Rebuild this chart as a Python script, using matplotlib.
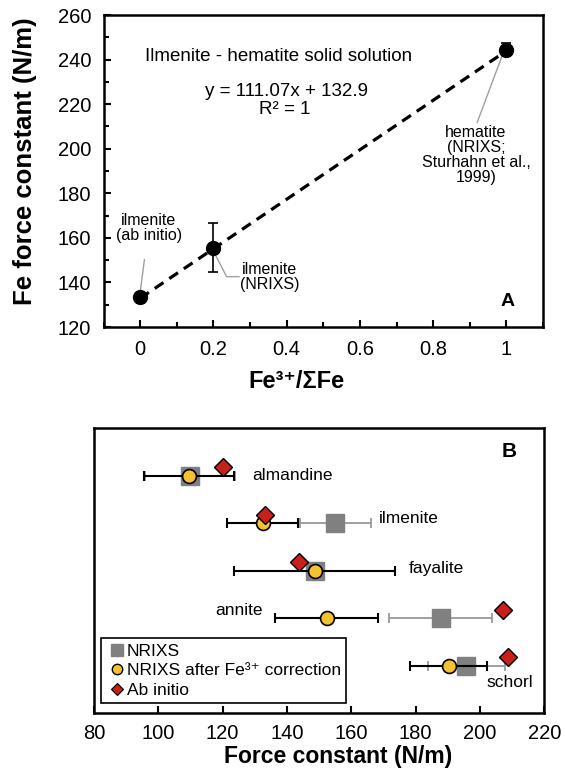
import matplotlib
matplotlib.use("Agg")
import matplotlib.pyplot as plt
from matplotlib.lines import Line2D
from matplotlib.ticker import MultipleLocator

plt.rcParams['font.family'] = ['Liberation Sans', 'DejaVu Sans']

# panel A: ilmenite - hematite solid solution
fe3_ratio = [0.0, 0.2, 1.0]
fe_force = [133.5, 155.5, 244.5]
fe_force_err = [0, 11, 3]
fit_slope = 111.07
fit_intercept = 132.9

# panel B: force constants per mineral
minerals = ['almandine', 'ilmenite', 'fayalite', 'annite', 'schorl']
nrixs = [109.8, 155.0, 148.6, 187.8, 195.8]
nrixs_err = [14, 11, 25, 16, 12]
corrected = [109.6, 132.4, 148.6, 152.3, 190.3]
corrected_err = [14, 11, 25, 16, 12]
ab_initio = [120.2, 133.3, 143.8, 207.3, 208.8]

fig = plt.figure(figsize=(5.65, 7.72), dpi=100)

# ---------------- panel A
ax = fig.add_axes([0.1832, 0.5764, 0.778, 0.4041])
xs = [0, 1]
ax.plot(xs, [fit_intercept + fit_slope * x for x in xs], color='black', lw=2.3,
        dashes=(3.3, 2.2), zorder=2)
ax.errorbar(fe3_ratio, fe_force, yerr=fe_force_err, fmt='o', color='black',
            ms=10, elinewidth=1.2, capsize=3.5, capthick=1.2, zorder=3)

gray = '#a0a0a0'
ax.annotate('ilmenite\n(ab initio)', xy=(0.0, 135.5), xytext=(0.023, 164.5),
            ha='center', va='center', fontsize=11.5, linespacing=1.0,
            arrowprops=dict(arrowstyle='-', color=gray, lw=1, shrinkA=10, shrinkB=0))
ax.text(0.354, 142.4, 'ilmenite\n(NRIXS)', ha='center', va='center', fontsize=11.5,
        linespacing=1.0)
# leader line for the NRIXS ilmenite label
ax.plot([0.27, 0.236, 0.202], [142.6, 142.6, 153.5], color=gray, lw=1, zorder=1)
ax.annotate('hematite\n(NRIXS;\nSturhahn et al.,\n1999)', xy=(0.99, 242.5), xytext=(0.917, 197.0),
            ha='center', va='center', fontsize=11.5, linespacing=1.0,
            arrowprops=dict(arrowstyle='-', color=gray, lw=1, shrinkA=0, shrinkB=0,
                            relpos=(0.5, 1.0)))

ax.text(0.379, 241.3, 'Ilmenite - hematite solid solution', ha='center', va='center', fontsize=13.5)
ax.text(0.399, 225.6, 'y = 111.07x + 132.9', ha='center', va='center', fontsize=13.5)
ax.text(0.394, 217.4, 'R² = 1', ha='center', va='center', fontsize=13.5)
ax.text(0.919, 0.081, 'A', transform=ax.transAxes, ha='center', va='center',
        fontsize=14, fontweight='bold')

ax.set_xlim(-0.1, 1.1)
ax.set_ylim(120, 260)
ax.xaxis.set_minor_locator(MultipleLocator(0.1))
ax.yaxis.set_major_locator(MultipleLocator(20))
ax.yaxis.set_minor_locator(MultipleLocator(10))
ax.set_xticks([0, 0.2, 0.4, 0.6, 0.8, 1.0])
ax.set_xticklabels(['0', '0.2', '0.4', '0.6', '0.8', '1'])
ax.tick_params(which='both', direction='in', labelsize=14.5, width=1.5)
ax.tick_params(which='major', length=5, pad=9)
ax.tick_params(which='minor', length=3.5)
for s in ax.spines.values():
    s.set_linewidth(1.8)
ax.set_xlabel('Fe³⁺/ΣFe', fontsize=17, fontweight='bold', va='center')
ax.xaxis.set_label_coords(0.44, -0.176)
ax.set_ylabel('Fe force constant (N/m)', fontsize=18.5, fontweight='bold', va='center')
ax.yaxis.set_label_coords(-0.179, 0.53)

# ---------------- panel B
bx = fig.add_axes([0.1664, 0.0764, 0.797, 0.3692])
ypos = [5, 4, 3, 2, 1]
dy = 0.17
bx.errorbar(nrixs, ypos, xerr=nrixs_err, fmt='none', ecolor='#999999', elinewidth=1.3,
            capsize=3.5, capthick=1.3, zorder=2)
bx.plot(nrixs, ypos, 's', color='#808080', ms=13, mec='#808080', zorder=3)
bx.errorbar(corrected, ypos, xerr=corrected_err, fmt='none', ecolor='black', elinewidth=1.5,
            capsize=3.5, capthick=1.5, zorder=4)
bx.plot(corrected, ypos, 'o', color='#f2c230', ms=10, mec='black', mew=1.2, zorder=5)
bx.plot(ab_initio, [y + dy for y in ypos], 'D', color='#c8201a', ms=9.5, mec='black',
        mew=1.0, zorder=6)

label_x = [129.3, 168.7, 177.7, 132.4, 202.1]
label_y = [5.0, 4.1, 3.05, 2.15, 0.65]
label_ha = ['left', 'left', 'left', 'right', 'left']
for name, lx, ly, ha in zip(minerals, label_x, label_y, label_ha):
    bx.text(lx, ly, name, ha=ha, va='center', fontsize=12.5)

bx.text(0.923, 0.917, 'B', transform=bx.transAxes, ha='center', va='center',
        fontsize=15, fontweight='bold')

handles = [
    Line2D([], [], ls='none', marker='s', color='#808080', ms=8),
    Line2D([], [], ls='none', marker='o', color='#f2c230', mec='black', mew=1.0, ms=7.5),
    Line2D([], [], ls='none', marker='D', color='#c8201a', mec='black', mew=0.8, ms=6.5),
]
leg = bx.legend(handles, ['NRIXS', 'NRIXS after Fe³⁺ correction', 'Ab initio'],
                loc='lower left', bbox_to_anchor=(0.0155, 0.035), fontsize=12.5,
                handlelength=1.2, handletextpad=0.0, labelspacing=0.25, borderpad=0.3,
                borderaxespad=0, fancybox=False, framealpha=1, edgecolor='black')
leg.get_frame().set_linewidth(1.2)

bx.set_xlim(80, 220)
bx.set_ylim(0, 6)
bx.xaxis.set_major_locator(MultipleLocator(20))
bx.set_yticks([])
bx.tick_params(axis='x', direction='in', labelsize=14.5, length=5, width=1.5, pad=8)
for s in bx.spines.values():
    s.set_linewidth(1.8)
bx.set_xlabel('Force constant (N/m)', fontsize=16.5, fontweight='bold', va='center')
bx.xaxis.set_label_coords(0.542, -0.154)

fig.savefig('out.png', dpi=100)
